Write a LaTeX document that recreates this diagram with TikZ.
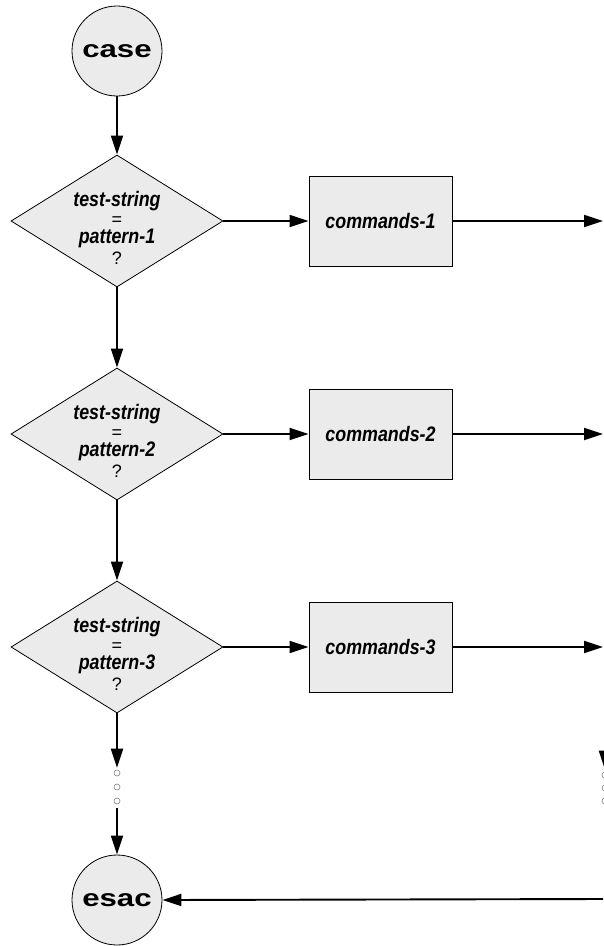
\documentclass[tikz,border=0pt]{standalone}
\usepackage{fontspec}
\usepackage{graphicx}
\setmainfont{Liberation Sans}
\usetikzlibrary{shapes.geometric,arrows.meta}
\definecolor{fillgray}{HTML}{EBEBEB}
\newcommand{\condtext}[1]{\scalebox{0.85}[1]{#1}}
\begin{document}
\begin{tikzpicture}[x=1pt,y=-1pt,
  flow/.style={line width=1.9pt,-{Triangle[length=19pt,width=12pt]}},
  term/.style={circle,draw,line width=0.8pt,fill=fillgray,minimum size=90pt,inner sep=0pt,font=\fontsize{24}{24}\selectfont\bfseries},
  decide/.style={diamond,draw,line width=0.8pt,fill=fillgray,minimum width=212pt,minimum height=132pt,inner sep=0pt},
  dtext/.style={align=center,inner sep=0pt,anchor=base,font=\fontsize{21}{18.5}\selectfont\bfseries\itshape},
  cmd/.style={rectangle,draw,line width=0.8pt,fill=fillgray,minimum width=143pt,minimum height=90pt,inner sep=0pt,font=\fontsize{21}{19}\selectfont\bfseries\itshape},
  dotc/.style={circle,draw=gray,line width=0.6pt,minimum size=6pt,inner sep=0pt}
]
\useasboundingbox (0,0) rectangle (603,946);
\fill[white] (0,0) rectangle (603,946);

\node[term] (case) at (117,51) {\scalebox{1.3}[1]{case}};
\node[term] (esac) at (117,900) {\scalebox{1.3}[1]{esac}};

\foreach \i/\y in {1/221,2/434,3/647}{
  \node[decide] (d\i) at (117,\y) {};
  \node[dtext] (t\i) at (117,\y+43) {\condtext{test-string}\\{\fontsize{18}{18.5}\selectfont\mdseries\upshape =}\\\condtext{pattern-\i}\\[2pt]{\fontsize{18}{18.5}\selectfont\mdseries\upshape ?}};
  \node[cmd] (c\i) at (380.5,\y) {\condtext{commands-\i}};
  \coordinate (r\i) at (603,\y);
  \draw[flow] (d\i.east) -- (c\i.west);
  \draw[flow] (c\i.east) -- (r\i);
}

\draw[flow] (case) -- (d1.north);
\draw[flow] (d1.south) -- (d2.north);
\draw[flow] (d2.south) -- (d3.north);

\node[dotc] (o1) at (117,773) {};
\node[dotc] (o2) at (117,787) {};
\node[dotc] (o3) at (117,801) {};
\draw[flow,shorten >=2pt] (d3.south) -- (o1.north);
\draw[flow,shorten <=4pt] (o3.south) -- (esac.north);

\coordinate (rv) at (605,700);
\node[dotc] (p1) at (605,775) {};
\node[dotc] (p2) at (605,788) {};
\node[dotc] (p3) at (605,801) {};
\draw[flow,shorten >=2pt] (rv) -- (p1.north);

\coordinate (rb) at (603,899);
\draw[flow] (rb) -- (esac.east);
\end{tikzpicture}
\end{document}
